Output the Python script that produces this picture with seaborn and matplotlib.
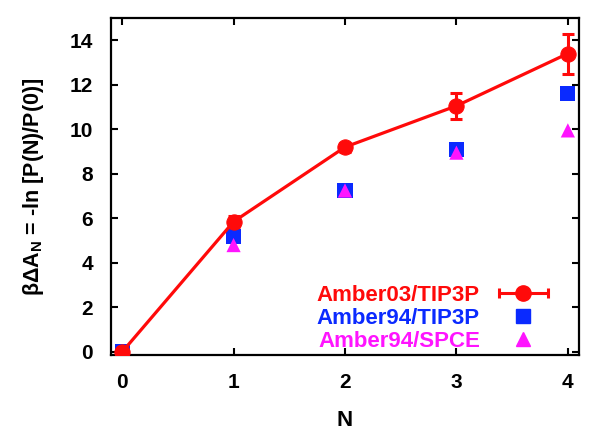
import numpy as np
import pandas as pd
import matplotlib
matplotlib.use('Agg')
import matplotlib.pyplot as plt
import seaborn as sns
from matplotlib.lines import Line2D
from matplotlib.legend_handler import HandlerLine2D, HandlerTuple

# Data
n_values = [0, 1, 2, 3, 4]
amber03_tip3p = [0.0, 5.85, 9.2, 11.05, 13.4]
amber03_err = [0.05, 0.25, 0.2, 0.6, 0.9]
amber94_tip3p = [0.0, 5.2, 7.25, 9.1, 11.6]
amber94_spce = [0.0, 4.8, 7.25, 8.95, 9.95]

red = '#ff0a0a'
blue = '#0a2aff'
magenta = '#ff14ff'

sns.set_style('ticks')
plt.rcParams['font.family'] = ['Liberation Sans', 'DejaVu Sans']
plt.rcParams['font.weight'] = 'bold'
plt.rcParams['text.color'] = 'black'
plt.rcParams['axes.labelcolor'] = 'black'
plt.rcParams['xtick.color'] = 'black'
plt.rcParams['ytick.color'] = 'black'
plt.rcParams['axes.edgecolor'] = 'black'
plt.rcParams['mathtext.fontset'] = 'custom'
plt.rcParams['mathtext.rm'] = 'Liberation Sans:bold'
plt.rcParams['mathtext.bf'] = 'Liberation Sans:bold'
plt.rcParams['mathtext.default'] = 'bf'

df = pd.DataFrame({'N': n_values, 'a03': amber03_tip3p,
                   'a94t': amber94_tip3p, 'a94s': amber94_spce})

fig = plt.figure(figsize=(6.0, 4.37), dpi=100)
ax = fig.add_axes([0.185, 0.188, 0.78, 0.771])

sns.scatterplot(data=df, x='N', y='a94t', marker='s', s=120, color=blue,
                edgecolor='none', ax=ax, zorder=3)
sns.scatterplot(data=df, x='N', y='a94s', marker='^', s=105, color=magenta,
                edgecolor='none', ax=ax, zorder=4)
ax.errorbar(n_values, amber03_tip3p, yerr=amber03_err, fmt='none', ecolor=red,
            elinewidth=2.2, capsize=4, capthick=2.2, zorder=5)
sns.lineplot(data=df, x='N', y='a03', color=red, lw=2.3, marker='o',
             markersize=11, markeredgecolor=red, ax=ax, zorder=5)

ax.set_xlim(-0.1, 4.1)
ax.set_ylim(-0.13, 15.0)
ax.set_xticks(n_values)
ax.set_yticks(np.arange(0, 15, 2))
ax.tick_params(direction='in', length=5, width=1.5, labelsize=15,
               top=True, right=True, colors='black')
ax.tick_params(axis='x', pad=13)
ax.tick_params(axis='y', pad=13)
for sp in ax.spines.values():
    sp.set_linewidth(1.6)
for lab in ax.get_xticklabels() + ax.get_yticklabels():
    lab.set_fontweight('bold')

ax.set_xlabel('N', fontsize=16, fontweight='bold', labelpad=13)
ax.set_ylabel(r'βΔA$_{N}$ = -ln [P(N)/P(0)]', fontsize=15.5,
              fontweight='bold', labelpad=17)

# legend handles: gnuplot-style error bar key
cap_line = Line2D([], [], color=red, lw=2.2, marker='|', markersize=7,
                  markeredgewidth=2.2)
dot = Line2D([], [], color=red, lw=0, marker='o', markersize=11)
sq = Line2D([], [], color=blue, lw=0, marker='s', markersize=10.5)
tri = Line2D([], [], color=magenta, lw=0, marker='^', markersize=10)
h03 = (cap_line, dot)
leg = ax.legend([h03, sq, tri],
                ['Amber03/TIP3P', 'Amber94/TIP3P', 'Amber94/SPCE'],
                handler_map={cap_line: HandlerLine2D(numpoints=2),
                             dot: HandlerLine2D(numpoints=1),
                             h03: HandlerTuple(ndivide=1, pad=0)},
                loc='lower right', bbox_to_anchor=(0.99, -0.05),
                frameon=False, markerfirst=False, handlelength=2.8,
                handletextpad=0.55, labelspacing=0.08, fontsize=16)
for txt, c in zip(leg.get_texts(), [red, blue, magenta]):
    txt.set_color(c)
    txt.set_fontweight('bold')
    txt.set_horizontalalignment('right')

fig.savefig('out.png', dpi=100)
